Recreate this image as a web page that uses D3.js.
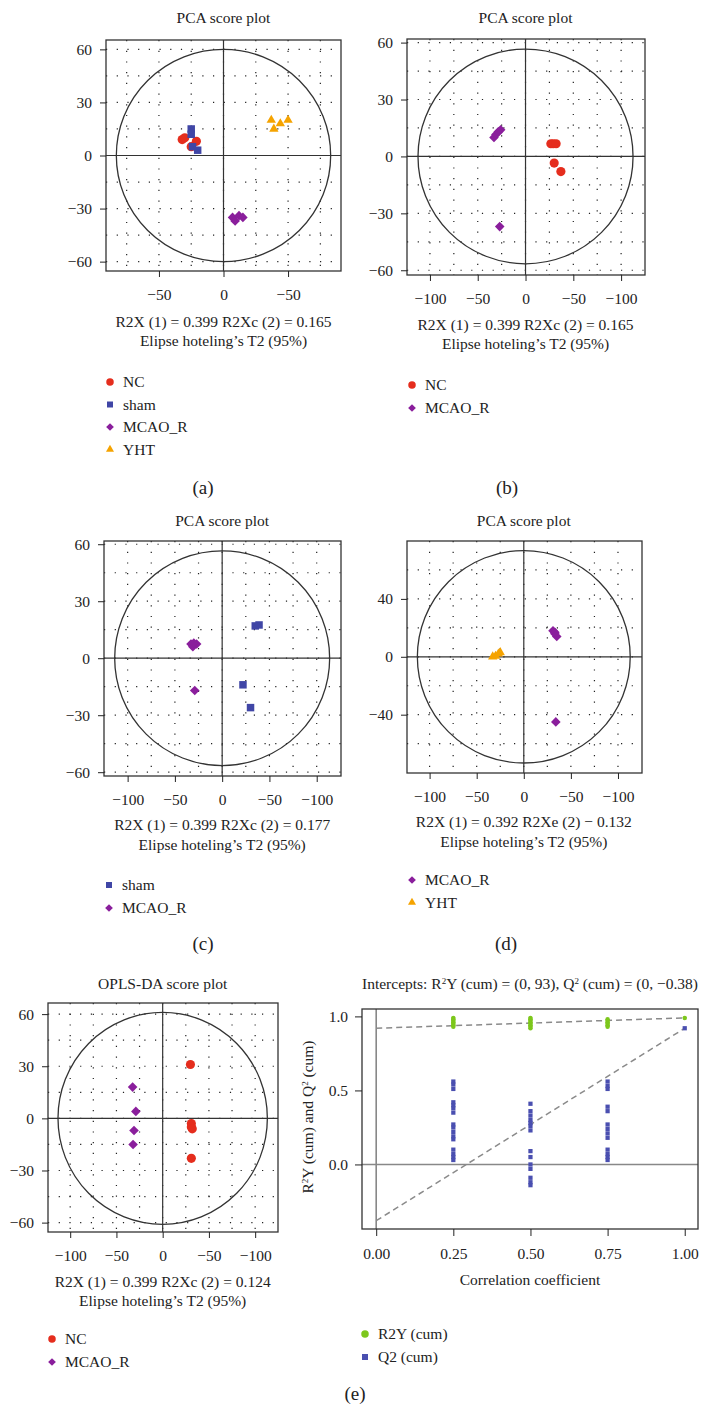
<!DOCTYPE html>
<html lang="en">
<head>
<meta charset="UTF-8">
<title>PCA and OPLS-DA score plots</title>
<script src="https://d3js.org/d3.v7.min.js"></script>
<style>
  body { margin: 0; background: #fff; }
  svg { display: block; font-family: "Liberation Serif", "DejaVu Serif", serif; fill: #222; }
  .grid line { stroke: #222; stroke-width: 1.2; stroke-dasharray: 1.2 9.5; }
  .axis text { font-size: 15.5px; fill: #222; font-family: "Liberation Serif", serif; }
  .axis line { stroke: #222; }
  .lbl { font-size: 15.5px; fill: #222; }
  .tag { font-size: 19px; fill: #222; }
</style>
</head>
<body>
<svg id="fig" width="704" height="1409"></svg>
<script>
// ---- data ----
// (a) all four groups
const aNC   = [[-32, 9], [-30, 10], [-21, 8], [-25, 5]];
const aSham = [[-25, 15], [-25, 12], [-24, 5], [-20, 3]];
const aMCAO = [[7, -35], [9, -37], [12, -34], [15, -35]];
const aYHT  = [[37, 20], [39, 15], [44, 18], [50, 20]];
// (b) NC vs MCAO_R
const bNC   = [[26.5, 6.7], [29, 6.7], [32, 6.7], [30, -3.5], [37, -8]];
const bMCAO = [[-33, 10], [-31, 11.5], [-28.5, 13], [-26, 14], [-27, -37]];
// (c) sham vs MCAO_R
const cSham = [[35, 17], [39, 17.5], [22, -14], [30, -26]];
const cMCAO = [[-33, 7.5], [-31, 6], [-27, 7.5], [-30, 8], [-29, -17]];
// (d) MCAO_R vs YHT
const dMCAO = [[31, 18], [33, 16], [35, 14], [33, 17], [34, -45]];
const dYHT  = [[-33, 0], [-30, 0.5], [-27, 2], [-25, 3]];
// (e) OPLS-DA NC vs MCAO_R
const eNC   = [[30, 31], [31, -3], [31, -5], [32, -6], [31, -23]];
const eMCAO = [[-32.5, 18], [-29, 4], [-31, -7], [-32, -15]];

// hotelling T2 ellipse radii [x, y] per panel
const ellA = [83, 60], ellB = [112.5, 56.6], ellC = [113.7, 56.5], ellD = [113, 73.4], ellE = [113.2, 61];

// permutation test
const permX   = [0.25, 0.50, 0.75, 1.00];
const r2yPerm = [
  [0.99, 0.98, 0.97, 0.96, 0.95, 0.94, 0.93],
  [0.99, 0.98, 0.97, 0.96, 0.95, 0.94, 0.93, 0.92],
  [0.98, 0.97, 0.96, 0.95, 0.94, 0.93],
  [0.99]
];
const q2Perm = [
  [0.56, 0.54, 0.51, 0.42, 0.40, 0.38, 0.35, 0.27, 0.25, 0.22, 0.19, 0.17, 0.10, 0.07, 0.05, 0.03],
  [0.41, 0.36, 0.33, 0.30, 0.28, 0.26, 0.23, 0.09, 0.05, 0.00, -0.03, -0.09, -0.12, -0.14],
  [0.56, 0.53, 0.51, 0.39, 0.36, 0.27, 0.24, 0.21, 0.18, 0.10, 0.07, 0.05, 0.03],
  [0.92]
];
const r2yLine = [[0, 0.92], [1, 0.99]];
const q2Line  = [[0, -0.38], [1, 0.92]];

// ---- styles ----
const groupStyle = {
  'NC':     { shape: 'circle',   color: '#e52d1d' },
  'sham':   { shape: 'square',   color: '#4046a6' },
  'MCAO_R': { shape: 'diamond',  color: '#8a1e9c' },
  'YHT':    { shape: 'triangle', color: '#f5a300' },
  'R2Y (cum)': { shape: 'circle', color: '#7dc71c' },
  'Q2 (cum)':  { shape: 'square', color: '#4a4fb0' }
};
const bigSize   = { circle: 66, square: 56, diamond: 46, triangle: 38 };
const smallSize = { circle: 44, square: 36, diamond: 30, triangle: 28 };

function markPath(shape, size) {
  const t = { circle: d3.symbolCircle, square: d3.symbolSquare, diamond: d3.symbolSquare, triangle: d3.symbolTriangle }[shape];
  return d3.symbol().type(t).size(size)();
}
function drawMark(sel, shape, size, color, x, y) {
  sel.append('path')
    .attr('d', markPath(shape, size))
    .attr('fill', color)
    .attr('transform', `translate(${x},${y})` + (shape === 'diamond' ? ' rotate(45)' : ''));
}

const svg = d3.select('#fig');
// x axis of the score plots is labelled with a minus on both sides
const mirrorFmt = d => d === 0 ? '0' : '\u2212' + Math.abs(d);
const yFmt = d => d < 0 ? '\u2212' + Math.abs(d) : String(d);

function centerText(x, y, str, cls) {
  return svg.append('text').attr('class', cls || 'lbl').attr('x', x).attr('y', y)
    .attr('dy', '0.35em').attr('text-anchor', 'middle').text(str);
}

function legend(x, y, step, keys) {
  keys.forEach((k, i) => {
    const st = groupStyle[k];
    drawMark(svg, st.shape, smallSize[st.shape], st.color, x, y + i * step);
    svg.append('text').attr('class', 'lbl').attr('x', x + 13).attr('y', y + i * step)
      .attr('dy', '0.35em').text(k);
  });
}

function styleAxis(g) {
  g.select('.domain').remove();
  g.selectAll('line').attr('stroke', '#222').attr('stroke-width', 1);
}

function scorePlot(p) {
  const x = d3.scaleLinear().domain(p.xDom).range([p.box[0], p.box[1]]);
  const y = d3.scaleLinear().domain(p.yDom).range([p.box[3], p.box[2]]);
  const g = svg.append('g');

  // dotted grid
  const grid = g.append('g').attr('class', 'grid');
  grid.selectAll('.gx').data(p.xGrid).join('line').attr('class', 'gx')
    .attr('x1', d => x(d)).attr('x2', d => x(d)).attr('y1', p.box[2]).attr('y2', p.box[3]);
  grid.selectAll('.gy').data(p.yGrid).join('line').attr('class', 'gy')
    .attr('y1', d => y(d)).attr('y2', d => y(d)).attr('x1', p.box[0]).attr('x2', p.box[1]);

  // zero axes
  g.append('line').attr('x1', x(0)).attr('x2', x(0)).attr('y1', p.box[2]).attr('y2', p.box[3])
    .attr('stroke', '#333').attr('stroke-width', 1.2);
  g.append('line').attr('y1', y(0)).attr('y2', y(0)).attr('x1', p.box[0]).attr('x2', p.box[1])
    .attr('stroke', '#333').attr('stroke-width', 1.2);

  // T2 ellipse
  g.append('ellipse').attr('cx', x(0)).attr('cy', y(0))
    .attr('rx', x(p.ell[0]) - x(0)).attr('ry', y(0) - y(p.ell[1]))
    .attr('fill', 'none').attr('stroke', '#333').attr('stroke-width', 1.3);

  // frame
  g.append('rect').attr('x', p.box[0]).attr('y', p.box[2])
    .attr('width', p.box[1] - p.box[0]).attr('height', p.box[3] - p.box[2])
    .attr('fill', 'none').attr('stroke', '#333').attr('stroke-width', 1.3);

  // points
  p.groups.forEach(([key, data]) => {
    const st = groupStyle[key];
    data.forEach(d => drawMark(g, st.shape, bigSize[st.shape], st.color, x(d[0]), y(d[1])));
  });

  // axes
  g.append('g').attr('class', 'axis').attr('transform', `translate(0,${p.box[3]})`)
    .call(d3.axisBottom(x).tickValues(p.xTicks).tickFormat(mirrorFmt).tickSize(6).tickPadding(12))
    .call(styleAxis);
  g.append('g').attr('class', 'axis').attr('transform', `translate(${p.box[0]},0)`)
    .call(d3.axisLeft(y).tickValues(p.yTicks).tickFormat(yFmt).tickSize(6).tickPadding(8))
    .call(styleAxis);

  centerText(x(0), p.titleY, p.title);
  centerText(x(0), p.statsY[0], p.stats[0]);
  centerText(x(0), p.statsY[1], 'Elipse hoteling\u2019s T2 (95%)');
}

const grid25 = d3.range(-100, 101, 25);
const grid15 = d3.range(-60, 61, 15);

scorePlot({ box: [106, 341, 40, 271], xDom: [-91, 91], yDom: [-65.3, 65.3],
  xTicks: [-50, 0, 50], yTicks: [60, 30, 0, -30, -60], xGrid: d3.range(-75, 76, 25), yGrid: grid15,
  ell: ellA, title: 'PCA score plot', titleY: 18,
  stats: ['R2X (1) = 0.399 R2Xc (2) = 0.165'], statsY: [322, 341],
  groups: [['NC', aNC], ['sham', aSham], ['MCAO_R', aMCAO], ['YHT', aYHT]] });
legend(110, 382, 22.5, ['NC', 'sham', 'MCAO_R', 'YHT']);
centerText(203, 487, '(a)', 'tag');

scorePlot({ box: [407, 645, 39, 275], xDom: [-124, 125], yDom: [-62.5, 61.9],
  xTicks: [-100, -50, 0, 50, 100], yTicks: [60, 30, 0, -30, -60], xGrid: grid25, yGrid: grid15,
  ell: ellB, title: 'PCA score plot', titleY: 18,
  stats: ['R2X (1) = 0.399 R2Xc (2) = 0.165'], statsY: [325, 344],
  groups: [['NC', bNC], ['MCAO_R', bMCAO]] });
legend(412, 385, 23, ['NC', 'MCAO_R']);
centerText(507, 487, '(b)', 'tag');

scorePlot({ box: [104, 341, 541, 776], xDom: [-125, 125.7], yDom: [-62, 61.7],
  xTicks: [-100, -50, 0, 50, 100], yTicks: [60, 30, 0, -30, -60], xGrid: grid25, yGrid: grid15,
  ell: ellC, title: 'PCA score plot', titleY: 521,
  stats: ['R2X (1) = 0.399 R2Xc (2) = 0.177'], statsY: [825, 845],
  groups: [['sham', cSham], ['MCAO_R', cMCAO]] });
legend(109, 885, 23, ['sham', 'MCAO_R']);
centerText(203, 943, '(c)', 'tag');

scorePlot({ box: [407, 642, 541, 773], xDom: [-124, 125.5], yDom: [-80.3, 80],
  xTicks: [-100, -50, 0, 50, 100], yTicks: [40, 0, -40], xGrid: grid25, yGrid: d3.range(-60, 61, 20),
  ell: ellD, title: 'PCA score plot', titleY: 521,
  stats: ['R2X (1) = 0.392 R2Xe (2) \u2212 0.132'], statsY: [822, 842],
  groups: [['MCAO_R', dMCAO], ['YHT', dYHT]] });
legend(412, 880, 22.5, ['MCAO_R', 'YHT']);
centerText(506, 943, '(d)', 'tag');

scorePlot({ box: [48, 278, 1003, 1232], xDom: [-124, 124.7], yDom: [-65.4, 66.4],
  xTicks: [-100, -50, 0, 50, 100], yTicks: [60, 30, 0, -30, -60], xGrid: grid25, yGrid: grid15,
  ell: ellE, title: 'OPLS-DA score plot', titleY: 984,
  stats: ['R2X (1) = 0.399 R2Xc (2) = 0.124'], statsY: [1282, 1301],
  groups: [['NC', eNC], ['MCAO_R', eMCAO]] });
legend(52, 1339, 23, ['NC', 'MCAO_R']);

// ---- permutation plot ----
(function () {
  const box = [362, 698, 1009, 1229];
  const x = d3.scaleLinear().domain([-0.046, 1.043]).range([box[0], box[1]]);
  const y = d3.scaleLinear().domain([-0.436, 1.05]).range([box[3], box[2]]);
  const g = svg.append('g');

  g.append('line').attr('x1', x(0)).attr('x2', x(0)).attr('y1', box[2]).attr('y2', box[3])
    .attr('stroke', '#888').attr('stroke-width', 1.6);
  g.append('line').attr('y1', y(0)).attr('y2', y(0)).attr('x1', box[0]).attr('x2', box[1])
    .attr('stroke', '#888').attr('stroke-width', 1.6);

  const line = d3.line().x(d => x(d[0])).y(d => y(d[1]));
  [r2yLine, q2Line].forEach(l => g.append('path').attr('d', line(l))
    .attr('fill', 'none').attr('stroke', '#8a8a8a').attr('stroke-width', 1.5).attr('stroke-dasharray', '6 4'));

  g.append('rect').attr('x', box[0]).attr('y', box[2])
    .attr('width', box[1] - box[0]).attr('height', box[3] - box[2])
    .attr('fill', 'none').attr('stroke', '#333').attr('stroke-width', 1.3);

  permX.forEach((px, i) => {
    q2Perm[i].forEach(v => drawMark(g, 'square', 18, groupStyle['Q2 (cum)'].color, x(px), y(v)));
    r2yPerm[i].forEach(v => drawMark(g, 'circle', 16, groupStyle['R2Y (cum)'].color, x(px), y(v)));
  });

  g.append('g').attr('class', 'axis').attr('transform', `translate(0,${box[3]})`)
    .call(d3.axisBottom(x).tickValues([0, 0.25, 0.5, 0.75, 1]).tickFormat(d3.format('.2f')).tickSize(7).tickPadding(12))
    .call(styleAxis);
  g.append('g').attr('class', 'axis').attr('transform', `translate(${box[0]},0)`)
    .call(d3.axisLeft(y).tickValues([0, 0.5, 1]).tickFormat(d3.format('.1f')).tickSize(7).tickPadding(7))
    .call(styleAxis);

  const t = centerText(530, 984, 'Intercepts: R');
  t.append('tspan').attr('baseline-shift', 'super').attr('font-size', 9).text('2');
  t.append('tspan').text('Y (cum) = (0, 93), Q');
  t.append('tspan').attr('baseline-shift', 'super').attr('font-size', 9).text('2');
  t.append('tspan').text(' (cum) = (0, \u22120.38)');

  centerText(530, 1280, 'Correlation coefficient');

  const yl = svg.append('text').attr('class', 'lbl').attr('text-anchor', 'middle')
    .attr('transform', 'translate(308,1117) rotate(-90)').attr('dy', '0.35em').text('R');
  yl.append('tspan').attr('baseline-shift', 'super').attr('font-size', 9).text('2');
  yl.append('tspan').text('Y (cum) and Q');
  yl.append('tspan').attr('baseline-shift', 'super').attr('font-size', 9).text('2');
  yl.append('tspan').text(' (cum)');

  legend(365, 1334, 23, ['R2Y (cum)', 'Q2 (cum)']);
  centerText(355, 1393, '(e)', 'tag');
})();
</script>
</body>
</html>
